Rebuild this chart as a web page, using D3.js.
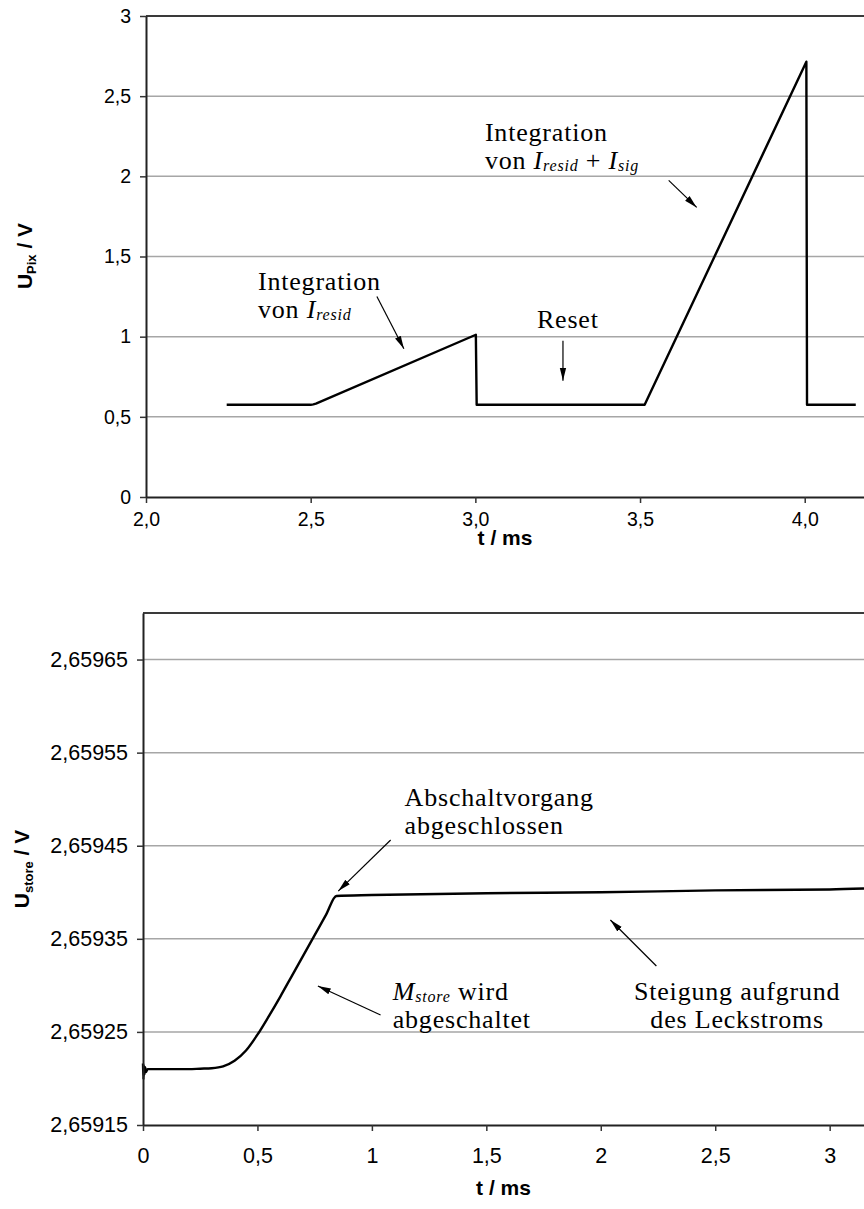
<!DOCTYPE html>
<html>
<head>
<meta charset="utf-8">
<script src="https://cdn.jsdelivr.net/npm/d3@7"></script>
<style>
  body { margin: 0; background: #fff; }
  svg { display: block; }
</style>
</head>
<body>
<svg id="chart" width="864" height="1209"></svg>
<script>
// ---- Pixel voltage U_Pix over one integration / reset cycle ----
const pixTime = [2.245, 2.500, 2.508, 2.516, 3.0015, 3.004, 3.514, 4.005, 4.007, 4.155];
const pixVolt = [0.575, 0.575, 0.578, 0.582, 1.012, 0.575, 0.575, 2.715, 0.575, 0.575];
const pixTimeTicks = [2.0, 2.5, 3.0, 3.5, 4.0];
const pixTimeLabels = ["2,0", "2,5", "3,0", "3,5", "4,0"];
const pixVoltTicks = [0, 0.5, 1, 1.5, 2, 2.5, 3];
const pixVoltLabels = ["0", "0,5", "1", "1,5", "2", "2,5", "3"];

// ---- Storage node voltage U_store while M_store switches off ----
const storeTime = [0, 0.002, 0.004, 0.006, 0.009, 0.013, 0.02, 0.1, 0.2, 0.25, 0.3, 0.35, 0.4,
                   0.45, 0.5, 0.55, 0.6, 0.65, 0.7, 0.75, 0.8, 0.845, 1.0, 1.5, 2.0, 2.5, 3.0, 3.15];
const storeVolt = [2.659216, 2.659199, 2.659214, 2.659204, 2.659212, 2.659207, 2.659210, 2.659210,
                   2.659210, 2.6592105, 2.659211, 2.659213, 2.659219, 2.659230, 2.659247, 2.659267,
                   2.659288, 2.659310, 2.659332, 2.659354, 2.659376, 2.659396, 2.659397, 2.659399,
                   2.659400, 2.659402, 2.659403, 2.659404];
const storeTimeTicks = [0, 0.5, 1, 1.5, 2, 2.5, 3];
const storeTimeLabels = ["0", "0,5", "1", "1,5", "2", "2,5", "3"];
const storeVoltTicks = [2.65915, 2.65925, 2.65935, 2.65945, 2.65955, 2.65965];
const storeVoltLabels = ["2,65915", "2,65925", "2,65935", "2,65945", "2,65955", "2,65965"];

// Annotation texts: segments are [text, style] with "" upright, "i" italic, "s" italic subscript
const pixNotes = [
  { t: 2.340, v: 1.294, anchor: "start", lines: [[["Integration", ""]], [["von ", ""], ["I", "i"], ["resid", "s"]]] },
  { t: 3.187, v: 1.056, anchor: "start", lines: [[["Reset", ""]]] },
  { t: 3.029, v: 2.219, anchor: "start", lines: [[["Integration", ""]],
      [["von ", ""], ["I", "i"], ["resid", "s"], [" + ", ""], ["I", "i"], ["sig", "s"]]] }
];
const pixArrows = [
  { t0: 2.701, v0: 1.250, t1: 2.783, v1: 0.925 },
  { t0: 3.266, v0: 0.975, t1: 3.266, v1: 0.725 },
  { t0: 3.587, v0: 1.975, t1: 3.672, v1: 1.806 }
];
const storeNotes = [
  { t: 1.143, v: 2.6594926, anchor: "start", lines: [[["Abschaltvorgang", ""]], [["abgeschlossen", ""]]] },
  { t: 1.091, v: 2.6592843, anchor: "start", lines: [[["M", "i"], ["store", "s"], [" wird", ""]], [["abgeschaltet", ""]]] },
  { t: 2.596, v: 2.6592843, anchor: "middle", lines: [[["Steigung aufgrund", ""]], [["des Leckstroms", ""]]] }
];
const storeArrows = [
  { t0: 1.082, v0: 2.6594561, t1: 0.853, v1: 2.6594013 },
  { t0: 1.038, v0: 2.6592682, t1: 0.764, v1: 2.6592993 },
  { t0: 2.243, v0: 2.6593208, t1: 2.042, v1: 2.6593702 }
];

const svg = d3.select("#chart");

const defs = svg.append("defs");
defs.append("marker")
  .attr("id", "head")
  .attr("markerUnits", "userSpaceOnUse")
  .attr("markerWidth", 13).attr("markerHeight", 8)
  .attr("refX", 13).attr("refY", 4)
  .attr("orient", "auto")
  .append("path").attr("d", "M0,0.8 L13,4 L0,7.2 Z").attr("fill", "#000");

const SANS = "'Liberation Sans', Arial, sans-serif";
const SERIF = "'Liberation Serif', 'Times New Roman', serif";
const LINE_GAP = 28;
const SUB_SHIFT = 2;

function drawPanel(cfg) {
  const g = svg.append("g");
  const x = d3.scaleLinear().domain(cfg.xDomain).range([cfg.left, cfg.right]);
  const y = d3.scaleLinear().domain(cfg.yDomain).range([cfg.bottom, cfg.top]);

  // horizontal gridlines
  g.append("g").selectAll("line")
    .data(cfg.yTicks.filter(v => v > cfg.yDomain[0] + 1e-9 && v < cfg.yDomain[1] - 1e-9))
    .join("line")
    .attr("x1", cfg.left).attr("x2", cfg.right)
    .attr("y1", d => y(d)).attr("y2", d => y(d))
    .attr("stroke", "#a6a6a6").attr("stroke-width", 1.5);

  // plot-area top edge
  g.append("line")
    .attr("x1", cfg.left).attr("x2", cfg.right)
    .attr("y1", y(cfg.yDomain[1])).attr("y2", y(cfg.yDomain[1]))
    .attr("stroke", "#3a3a3a").attr("stroke-width", 1.8);

  // data curve
  const line = d3.line().x(d => x(d[0])).y(d => y(d[1])).curve(cfg.curve);
  g.append("path")
    .datum(cfg.xs.map((t, i) => [t, cfg.ys[i]]))
    .attr("d", line)
    .attr("fill", "none").attr("stroke", "#000")
    .attr("stroke-width", 2.4).attr("stroke-linejoin", "round");

  // axes
  const xAxis = d3.axisBottom(x)
    .tickValues(cfg.xTicks)
    .tickFormat((d, i) => cfg.xLabels[i])
    .tickSizeInner(6).tickSizeOuter(0).tickPadding(cfg.xPad);
  const yAxis = d3.axisLeft(y)
    .tickValues(cfg.yTicks)
    .tickFormat((d, i) => cfg.yLabels[i])
    .tickSizeInner(6).tickSizeOuter(0).tickPadding(9);

  const gx = g.append("g").attr("transform", `translate(0,${cfg.bottom})`).call(xAxis);
  const gy = g.append("g").attr("transform", `translate(${cfg.left},0)`).call(yAxis);
  [gx, gy].forEach(a => {
    a.select(".domain").attr("stroke", "#222").attr("stroke-width", 2);
    a.selectAll(".tick line").attr("stroke", "#333").attr("stroke-width", 1.5);
    a.selectAll(".tick text").attr("fill", "#000")
      .style("font-family", SANS).style("font-size", cfg.tickFont + "px");
  });

  // axis titles
  g.append("text")
    .attr("x", (cfg.left + cfg.right) / 2).attr("y", cfg.xTitleY)
    .attr("text-anchor", "middle")
    .style("font-family", SANS).style("font-size", "21px").style("font-weight", "bold")
    .text("t / ms");

  const yt = g.append("text")
    .attr("transform", `translate(${cfg.yTitleX},${cfg.yTitleCY}) rotate(-90)`)
    .attr("text-anchor", "middle")
    .style("font-family", SANS).style("font-size", "21px").style("font-weight", "bold");
  yt.append("tspan").text("U");
  yt.append("tspan").attr("dy", 4).style("font-size", "13px").text(cfg.ySub);
  yt.append("tspan").attr("dy", -4).text(" / V");

  // annotation texts: one text element per note, lines as tspans
  cfg.notes.forEach(n => {
    const x0 = x(n.t);
    const tx = g.append("text")
      .attr("x", x0).attr("y", y(n.v))
      .attr("text-anchor", n.anchor)
      .style("font-family", SERIF).style("font-size", "26px")
      .style("letter-spacing", "0.8px").attr("fill", "#000");
    let offset = 0; // current baseline shift from subscripts
    n.lines.forEach((segs, li) => {
      segs.forEach(([txt, st], si) => {
        const sp = tx.append("tspan").text(txt);
        let dy = 0;
        if (si === 0 && li > 0) {
          sp.attr("x", x0);
          dy += LINE_GAP - offset;
          offset = 0;
        }
        if (st === "s") {
          if (offset === 0) { dy += SUB_SHIFT; offset = SUB_SHIFT; }
          sp.style("font-style", "italic").style("font-size", "16px");
        } else {
          if (offset !== 0) { dy -= offset; offset = 0; }
          if (st === "i") sp.style("font-style", "italic");
        }
        if (dy) sp.attr("dy", dy);
      });
    });
  });

  // annotation arrows
  g.append("g").selectAll("line")
    .data(cfg.arrows)
    .join("line")
    .attr("x1", d => x(d.t0)).attr("y1", d => y(d.v0))
    .attr("x2", d => x(d.t1)).attr("y2", d => y(d.v1))
    .attr("stroke", "#000").attr("stroke-width", 1.2)
    .attr("marker-end", "url(#head)");
}

drawPanel({
  left: 146, right: 864, top: 16, bottom: 497,
  xDomain: [2.0, 4.18], yDomain: [0, 3],
  xs: pixTime, ys: pixVolt, curve: d3.curveLinear,
  xTicks: pixTimeTicks, xLabels: pixTimeLabels,
  yTicks: pixVoltTicks, yLabels: pixVoltLabels,
  xPad: 9, tickFont: 19.5, xTitleY: 545,
  yTitleX: 32, yTitleCY: 256, ySub: "Pix",
  notes: pixNotes, arrows: pixArrows
});

drawPanel({
  left: 143, right: 864, top: 613, bottom: 1125,
  xDomain: [0, 3.15], yDomain: [2.65915, 2.6597],
  xs: storeTime, ys: storeVolt, curve: d3.curveMonotoneX,
  xTicks: storeTimeTicks, xLabels: storeTimeLabels,
  yTicks: storeVoltTicks, yLabels: storeVoltLabels,
  xPad: 17, tickFont: 21.5, xTitleY: 1195,
  yTitleX: 29, yTitleCY: 869, ySub: "store",
  notes: storeNotes, arrows: storeArrows
});
</script>
</body>
</html>
